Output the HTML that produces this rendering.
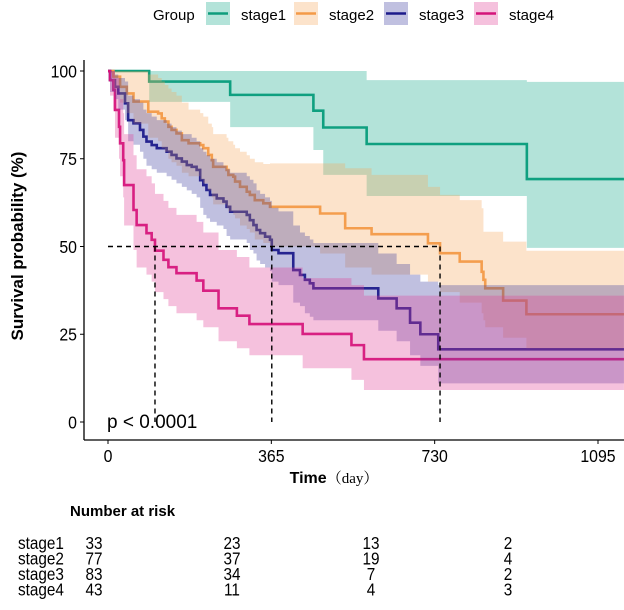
<!DOCTYPE html>
<html><head><meta charset="utf-8"><style>
html,body{margin:0;padding:0;background:#fff;}
svg{display:block;font-family:"Liberation Sans",Arial,sans-serif;}
</style></head><body>
<svg id="chart" width="624" height="610" viewBox="0 0 624 610" xmlns="http://www.w3.org/2000/svg">
<g id="lines"></g>
<g id="bands"></g>
<g id="axes"></g>
<g id="legend"></g>
<g id="risk"></g>
</svg>
<script>
const groups = ["stage1","stage2","stage3","stage4"];
const lineColors = ["#0e9c7c","#f39a48","#1c1a8a","#d4137a"];
const fillColors = ["#14a88a","#f7a95c","#3a3ba0","#df3d95"];
const t1=[0,92,273,459,481,578,936];
const s1=[100,97,93.2,88.7,83.9,79.2,69.2];
const lo1=[100,91.2,84,77.5,70.4,64.4,49.6];
const hi1=[100,100,100,100,100,97.4,96.9];
const t2=[0,12,27,42,57,90,112,120,127,135,142,153,165,180,206,213,224,232,235,265,269,280,284,295,310,317,328,347,362,474,530,589,715,742,786,835,839,843,883,935];
const s2=[100,98.4,95.5,93.6,91.3,88.4,87.9,86.5,85.6,84.1,83.2,82.2,80.3,79.4,78.9,78,76.1,74.6,72.7,71.8,70.4,69.9,68.5,67,65.6,64.7,63.2,62.3,61.3,59.4,55.2,53.5,50.9,48.1,45.7,42.8,40.5,38.1,34.6,30.7];
const hi2=[100,100,100,100,100,99,98,97,96,95,94,93,91,89,88,87,85,84,82,81,80,79,78,77,76,75,74,73.5,73.7,73.7,72.3,70.4,67,64.7,63.2,60.9,54.2,54.2,51.4,48.8];
const lo2=[100,95,91,88,85,81,80,78,77,75,74,73,71,70,69,68,66,64,62,61,60,59,58,56,55,54,52,51,50,48,44,42,40,37,34,31,29,27,24,21];
const t3=[0,4.5,15.6,23,38,45,57,71.5,79,86,97.6,109,131,142,153,165,176,187,198,206,213,220,228,243,258,265,273,310,317,325,332,340,351,362,366,381,414,429,440,451,459,604,645,675,698,738];
const s3=[100,97.4,95.5,93.6,90.8,86,85.1,83.2,81.3,79.9,78.9,78,77,76.1,75.1,74.2,73.2,72.7,71.8,68.9,67.5,66.1,64.7,63.7,62.8,61.3,59.9,59,57.5,56.1,54.7,53.8,52.8,51.9,49,48.1,43.3,41.9,40.5,39.5,38.1,35.2,32.4,28.3,25,20.7];
const hi3=[100,100,99,98,97,93,92,91,89,88,87,86,85,84,83,82,82,81,80,78,77,76,75,74,73,72,71,70,69,68,66,65,64,63,61,60,56,54,53,52,51,48,45,42,40,39];
const lo3=[100,94,92,89,86,80,79,77,75,73,72,71,70,69,68,67,66,65,64,61,59,58,57,56,55,53,52,51,49,48,46,45,44,43,40,39,34,33,31,30,29,26,23,19,16,11];
const t4=[0,4.5,12,15.6,24.6,27,34,36,57,64,86,97.6,105,124,135,153,198,213,247,288,316,435,544,572];
const s4=[100,97.4,94.6,88.9,84.1,79.4,74.6,67.5,60.4,56.1,53.8,51.9,48.8,46.2,44.1,42.4,40.3,37.4,32.4,30.3,27.9,25.1,21.9,17.9];
const hi4=[100,100,100,98,95,92,88,82,76,72,70,68,65,63,61,59,57,54,49,47,44,41,39,36];
const lo4=[100,93,89,81,75,70,64,56,49,44,42,40,37,35,33,31,29,27,23,21,19,15.3,12,9.1];
const medians=[105,366,742];
const xTicks=[0,365,730,1095];
const yTicks=[0,25,50,75,100];
const riskCounts=[[33,23,13,2],[77,37,19,4],[83,34,7,2],[43,11,4,3]];

const NS="http://www.w3.org/2000/svg";
const X0=108, XS=(598-108)/1095, XMAX=1153;
const Y0=422, YS=(422-71)/100;
const xs=t=>X0+t*XS, ys=v=>Y0-v*YS;
function mk(tag,attrs,parent){const e=document.createElementNS(NS,tag);for(const k in attrs)e.setAttribute(k,attrs[k]);parent.appendChild(e);return e;}
const T=[t1,t2,t3,t4],S=[s1,s2,s3,s4],L=[lo1,lo2,lo3,lo4],H=[hi1,hi2,hi3,hi4];
function stepPts(t,v){let p=[];for(let i=0;i<t.length;i++){if(i>0)p.push([xs(t[i]),ys(v[i-1])]);p.push([xs(t[i]),ys(v[i])]);}p.push([xs(XMAX),ys(v[v.length-1])]);return p;}
const gB=document.getElementById('bands'),gL=document.getElementById('lines'),gA=document.getElementById('axes'),gLeg=document.getElementById('legend'),gR=document.getElementById('risk');
for(let g=0;g<4;g++){
  const l=mk('path',{d:'M'+stepPts(T[g],S[g]).map(p=>p.join(',')).join('L'),fill:'none',stroke:lineColors[g],'stroke-width':2.6},gL);
  
  
}
for(let g=0;g<4;g++){
  const up=stepPts(T[g],H[g]),dn=stepPts(T[g],L[g]).reverse();
  const b=mk('path',{d:'M'+up.concat(dn).map(p=>p.join(',')).join('L')+'Z',fill:fillColors[g],'fill-opacity':0.32,stroke:'none'},gB);
  
  
}
const dash={stroke:'#000','stroke-width':1.4,'stroke-dasharray':'5,4',fill:'none'};
const hl=mk('line',Object.assign({x1:xs(0),x2:xs(Math.max(...medians)),y1:ys(50),y2:ys(50)},dash),gA);


medians.forEach(m=>{const v=mk('line',Object.assign({x1:xs(m),x2:xs(m),y1:ys(50),y2:ys(0)},dash),gA);
  
  });
mk('line',{x1:84,x2:84,y1:60,y2:440,stroke:'#000','stroke-width':1.3},gA);
mk('line',{x1:84,x2:624,y1:440,y2:440,stroke:'#000','stroke-width':1.3},gA);
const SX=0.88;
yTicks.forEach(v=>{mk('line',{x1:80,x2:84,y1:ys(v),y2:ys(v),stroke:'#000'},gA);
  const t=mk('text',{x:77/SX,y:ys(v)+6.5,transform:`scale(${SX},1)`,'text-anchor':'end','font-size':18,fill:'#000'},gA);t.textContent=v;
  
  });
xTicks.forEach(v=>{mk('line',{x1:xs(v),x2:xs(v),y1:440,y2:444,stroke:'#000'},gA);
  const t=mk('text',{x:xs(v)/SX,y:462,transform:`scale(${SX},1)`,'text-anchor':'middle','font-size':18,fill:'#000'},gA);t.textContent=v;
  
  });
const yt=mk('text',{x:0,y:0,transform:'translate(23,246) rotate(-90)','text-anchor':'middle','font-size':17,'font-weight':'bold',fill:'#000'},gA);
yt.textContent='Survival probability (%)';


const xt=mk('text',{x:334,y:483,'text-anchor':'middle','font-size':16,fill:'#000'},gA);
xt.innerHTML='<tspan font-weight="bold">Time</tspan><tspan font-family="Liberation Serif, Noto Serif CJK SC, serif" font-size="15">（day）</tspan>';


const pv=mk('text',{x:107,y:428,'font-size':19,fill:'#000'},gA);pv.textContent='p < 0.0001';


const gt=mk('text',{x:153,y:20,'font-size':15,fill:'#000'},gLeg);gt.textContent='Group';


const keyX=[206,294,384,474];
groups.forEach((g,i)=>{
  const e=mk('g',{},gLeg);
  
  
  mk('rect',{x:keyX[i],y:2,width:24,height:23,fill:fillColors[i],'fill-opacity':0.32},e);
  mk('line',{x1:keyX[i]+2,x2:keyX[i]+22,y1:13.5,y2:13.5,stroke:lineColors[i],'stroke-width':2.6},e);
  const t=mk('text',{x:keyX[i]+35,y:20,'font-size':15,fill:'#000'},e);t.textContent=g;
});
const rt=mk('text',{x:70,y:516,'font-size':15,'font-weight':'bold',fill:'#000'},gR);rt.textContent='Number at risk';


const colX=[94,232,371,508];
const RS=0.85;
riskCounts.forEach((row,r)=>{
  const y=549+r*15.5;
  const lab=mk('text',{x:18/RS,y:y,transform:`scale(${RS},1)`,'font-size':18,fill:'#000'},gR);lab.textContent=groups[r];
  
  
  row.forEach((c,j)=>{const t=mk('text',{x:colX[j]/RS,y:y,transform:`scale(${RS},1)`,'text-anchor':'middle','font-size':18,fill:'#000'},gR);t.textContent=c;
    
    });
});
</script>
</body></html>
